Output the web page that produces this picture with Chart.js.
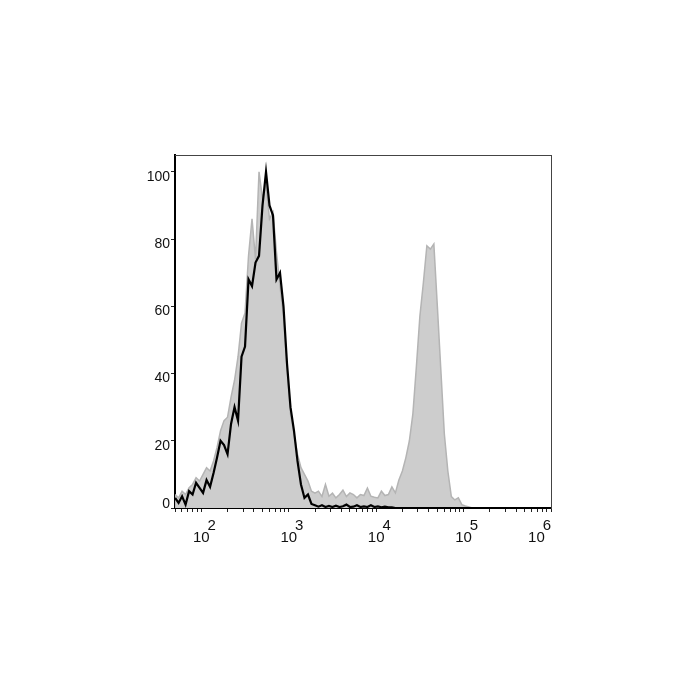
<!DOCTYPE html>
<html><head><meta charset="utf-8">
<script src="https://cdn.jsdelivr.net/npm/chart.js@4.4.1/dist/chart.umd.min.js"></script>
<style>html,body{margin:0;padding:0;background:#fff;}</style>
</head><body>
<canvas id="c" width="700" height="700"></canvas>
<script>
// bin centres, as log10 of fluorescence intensity
const binLog = [
  1.70,1.74,1.78,1.82,1.86,1.90,1.94,1.98,
  2.02,2.06,2.10,2.14,2.18,2.22,2.26,2.30,2.34,2.38,2.42,2.46,2.50,2.54,2.58,2.62,2.66,2.70,2.74,2.78,2.82,2.86,2.90,2.94,2.98,
  3.02,3.06,3.10,3.14,3.18,3.22,3.26,3.30,3.34,3.38,3.42,3.46,3.50,3.54,3.58,3.62,3.66,3.70,3.74,3.78,3.82,3.86,3.90,3.94,3.98,
  4.02,4.06,4.10,4.14,4.18,4.22,4.26,4.30,4.34,4.38,4.42,4.46,4.50,4.54,4.58,4.62,4.66,4.70,4.74,4.78,4.82,4.86,4.90,4.94,4.98,
  5.02,5.06,5.10,5.30,5.50,5.70,5.90,6.00
];
// stained sample (grey filled)
const grayCounts = [
  4,3,5,4,6,7,9,8,
  10,12,11,14,18,23,26,27,33,38,45,55,58,75,86,74,100,92,96,86,88,76,66,57,42,
  28,22,16,12,10,8,5,4.4,5,3.4,7,3.5,4.4,3,4,5.3,3.4,4.5,4,3,4,3.7,5.9,3.5,3.2,
  3,5,3.7,4,6.3,4.5,8.3,11,15,20,28,42,57,67,78,77,78.5,60,41,22,11,3.4,2.4,3,1,
  0.6,0.3,0,0,0,0,0,0
];
// unstained control (black line)
const blackCounts = [
  3,1.5,3.5,1,5,4,7.5,6,
  4.5,8.3,6.3,10.4,15,20,18.7,16,25,30,26,45,48,68,66,73,75,90,100,90,87,68,70,60,43,
  30,23,14,7,3,4,1.2,0.8,0.4,0.8,0.3,0.6,0.3,0.7,0.3,0.5,1,0.3,0.4,0.8,0.3,0.5,0.3,0.8,0.3,
  0.5,0.2,0.4,0.2,0.2,0,0,0,0,0,0,0,0,0,0,0,0,0,0,0,0,0,0,0,0,
  0,0,0,0,0,0,0,0
];
const yTickValues = [0,20,40,60,80,100];
const xDecades = [100,1000,10000,100000,1000000];
const xExponents = ['2','3','4','5','6'];

const xTickValues = [];
[10,100,1000,10000,100000].forEach(d => { for (let m = 1; m <= 9; m++) { const v = d*m; if (v >= 50) xTickValues.push(v); } });
xTickValues.push(1000000);

const toPts = arr => arr.map((y,i) => ({x: Math.pow(10, binLog[i]), y}));
const FONT = "'Liberation Sans', Arial, sans-serif";

new Chart(document.getElementById('c'), {
  type: 'line',
  data: {
    datasets: [
      { label: 'control', data: toPts(blackCounts), xAxisID:'x', yAxisID:'y', order: 0,
        borderColor: '#000', borderWidth: 2.2, fill: false, pointRadius: 0, tension: 0 },
      { label: 'stained', data: toPts(grayCounts), xAxisID:'x', yAxisID:'y', order: 1,
        borderColor: '#b4b4b4', borderWidth: 1.5, backgroundColor: '#cdcdcd', fill: 'origin', pointRadius: 0, tension: 0 }
    ]
  },
  options: {
    responsive: false,
    animation: false,
    layout: { padding: { left: 130, right: 149, top: 155, bottom: 142 } },
    plugins: { legend: { display: false }, tooltip: { enabled: false } },
    scales: {
      x: {
        type: 'logarithmic', position: 'bottom', min: 50, max: 1000000,
        afterBuildTicks: s => { s.ticks = xTickValues.map(v => ({ value: v, major: xDecades.includes(v) })); },
        afterFit: s => { s.height = 50; },
        grid: { drawOnChartArea: false, drawTicks: true, tickLength: 4, color: '#222', lineWidth: 1 },
        border: { display: true, color: '#000', width: 2 },
        ticks: {
          autoSkip: false, maxRotation: 0, minRotation: 0, padding: 8, color: '#111',
          font: { family: FONT, size: 15, lineHeight: 0.8 },
          callback: v => {
            const i = xDecades.indexOf(v);
            if (i < 0) return '';
            if (i === xDecades.length - 1) return [xExponents[i] + '  ', '10       '];
            return ['     ' + xExponents[i], '10'];
          }
        }
      },
      y: {
        type: 'linear', position: 'left', min: 0, max: 105,
        afterBuildTicks: s => { s.ticks = yTickValues.map(v => ({ value: v })); },
        afterFit: s => { s.width = 45; },
        grid: { drawOnChartArea: false, drawTicks: true, tickLength: 4, color: '#222', lineWidth: 1 },
        border: { display: true, color: '#000', width: 2 },
        ticks: {
          padding: 1, labelOffset: 5, color: '#111',
          font: { family: FONT, size: 14 },
          callback: v => v === 0 ? ['0', ''] : String(v)
        }
      },
      xTop: {
        type: 'linear', axis: 'x', position: 'top', min: 0, max: 1,
        afterFit: s => { s.height = 0; },
        grid: { drawOnChartArea: false, drawTicks: false },
        border: { display: true, color: '#444', width: 1 },
        ticks: { display: false }
      },
      yRight: {
        type: 'linear', axis: 'y', position: 'right', min: 0, max: 1,
        afterFit: s => { s.width = 0; },
        grid: { drawOnChartArea: false, drawTicks: false },
        border: { display: true, color: '#444', width: 1 },
        ticks: { display: false }
      }
    }
  }
});
</script>
</body></html>
